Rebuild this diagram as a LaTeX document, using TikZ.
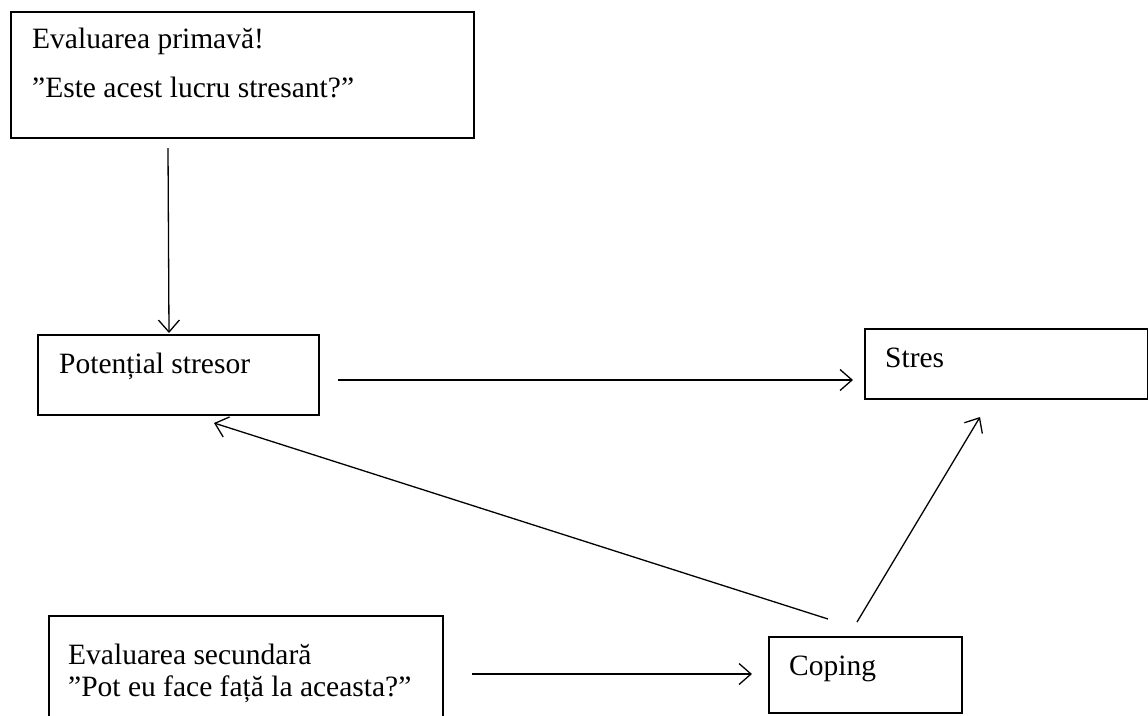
\documentclass[tikz,border=0pt]{standalone}
\usepackage{fontspec}
\setmainfont{Liberation Serif}
\usetikzlibrary{arrows.meta}
\begin{document}
\begin{tikzpicture}[x=1pt,y=-1pt,
  boxshape/.style={draw,line width=1.6pt,rectangle,inner sep=0pt,anchor=north west},
  lbl/.style={anchor=base west,inner sep=0pt,font=\fontsize{29.5}{34}\selectfont},
  conn/.style={line width=1.3pt,-{Straight Barb[length=12pt,width=21pt,line width=1.3pt]}}]
\useasboundingbox (0,0) rectangle (1148,715);
% boxes
\node[boxshape,minimum width=463pt,minimum height=126pt] (prim) at (10,11) {};
\node[boxshape,minimum width=281pt,minimum height=80pt] (pot) at (37,334) {};
\node[boxshape,minimum width=283pt,minimum height=70pt] (stres) at (864,328) {};
\node[boxshape,minimum width=193pt,minimum height=76pt] (cop) at (768,636) {};
\begin{scope}
\clip (0,0) rectangle (1148,715);
\node[boxshape,minimum width=394pt,minimum height=115pt] (sec) at (48,615) {};
\end{scope}
% texts
\node[lbl] (t1) at (32,48) {Evaluarea primavă!};
\node[lbl] (t2) at (32,97) {”Este acest lucru stresant?”};
\node[lbl] (t3) at (59,373) {Potențial stresor};
\node[lbl] (t4) at (885,367) {Stres};
\node[lbl] (t5) at (68,664) {Evaluarea secundară};
\node[lbl] (t6) at (68,696) {”Pot eu face față la aceasta?”};
\node[lbl] (t7) at (789,675) {Coping};
% connector ends
\coordinate (a1s) at (168,148);
\coordinate (a1e) at (169,333);
\coordinate (a2s) at (338,380);
\coordinate (a2e) at (853,380);
\coordinate (a3s) at (828,619);
\coordinate (a3e) at (214,423);
\coordinate (a4s) at (857,622);
\coordinate (a4e) at (980,417);
\coordinate (a5s) at (472,674);
\coordinate (a5e) at (752,674);
\draw[conn] (a1s) -- (a1e);
\draw[conn] (a2s) -- (a2e);
\draw[conn] (a3s) -- (a3e);
\draw[conn] (a4s) -- (a4e);
\draw[conn] (a5s) -- (a5e);
\end{tikzpicture}
\end{document}
